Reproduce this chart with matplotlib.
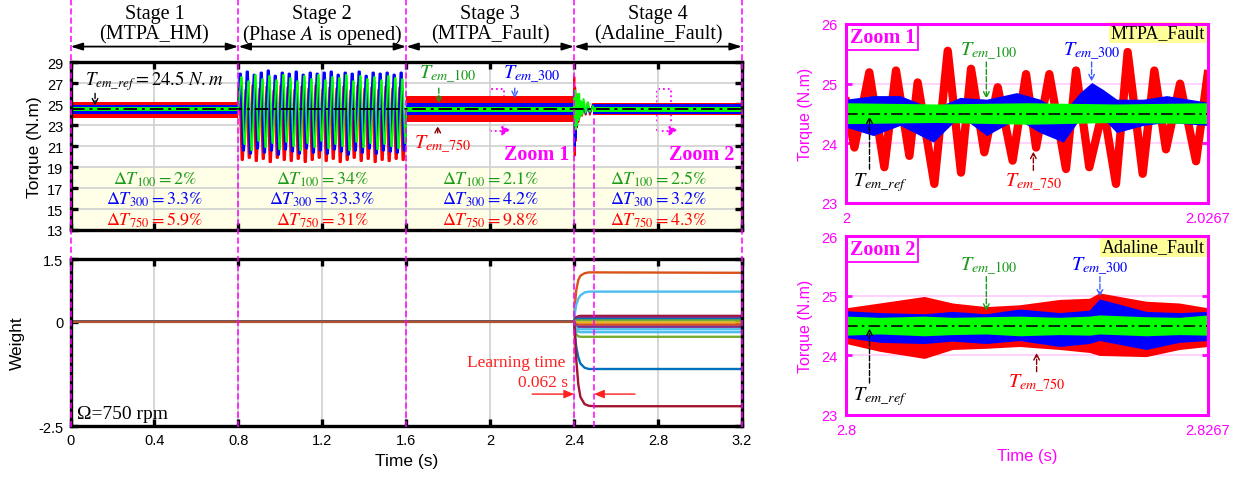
import numpy as np
import matplotlib.pyplot as plt
from matplotlib.lines import Line2D
from matplotlib.patches import Rectangle

plt.rcParams['font.family'] = ['Liberation Sans', 'DejaVu Sans']
plt.rcParams['mathtext.fontset'] = 'stix'
SERIF = ['Liberation Serif', 'DejaVu Serif']

RED, BLUE, GREEN = '#FF0000', '#0000FF', '#00FF00'
MAG = '#FF00FF'

# ---------------- main torque panel -----------------
stage_bounds = [0.0, 0.8, 1.6, 2.4, 3.2]
stage_names = ['Stage 1', 'Stage 2', 'Stage 3', 'Stage 4']
stage_modes = ['(MTPA_HM)', '(Phase $A$ is opened)', '(MTPA_Fault)', '(Adaline_Fault)']
dT100 = ['2%', '34%', '2.1%', '2.5%']
dT300 = ['3.3%', '33.3%', '4.2%', '3.2%']
dT750 = ['5.9%', '31%', '9.8%', '4.3%']
T_ref = 24.5

# noise bands (low, high) for stage 1, 3, 4
band1_t = [0.0, 0.8]
band1_red = ([23.65, 23.65], [25.25, 25.25])
band1_blue = ([24.1, 24.1], [24.9, 24.9])
band1_green = ([24.32, 24.32], [24.72, 24.72])
band3_t = [1.6, 2.4]
band3_red = ([23.35, 23.35], [25.8, 25.8])
band3_blue = ([24.0, 24.0], [25.1, 25.1])
band3_green = ([24.22, 24.22], [24.78, 24.78])
band4_t = [2.49, 3.2]
band4_red = ([24.0, 24.0], [25.1, 25.1])
band4_blue = ([24.1, 24.1], [25.0, 25.0])
band4_green = ([24.3, 24.3], [24.78, 24.78])

# stage 2 oscillation: per-cycle peaks and troughs (24 cycles)
s2_blue_hi = [27.9, 28.1, 27.8, 28.0, 28.2, 27.7, 28.0, 27.9, 28.1, 27.8, 28.0, 27.9,
              28.0, 28.1, 27.8, 28.0, 27.9, 28.1, 27.7, 28.0, 27.9, 28.0, 27.8, 28.0]
s2_blue_lo = [20.6, 20.3, 20.8, 20.4, 20.6, 20.2, 20.7, 20.5, 20.3, 20.8, 20.4, 20.6,
              20.3, 20.7, 20.5, 20.2, 20.6, 20.4, 20.8, 20.3, 20.6, 20.5, 20.4, 20.6]
s2_green_hi = [27.6, 27.2, 27.8, 27.4, 27.7, 27.3, 27.8, 27.5, 27.2, 27.7, 27.4, 27.8,
               27.3, 27.6, 27.5, 27.8, 27.2, 27.7, 27.4, 27.6, 27.3, 27.7, 27.5, 27.4]
s2_green_lo = [21.2, 20.6, 21.5, 20.9, 21.3, 20.7, 21.4, 21.0, 20.6, 21.3, 20.9, 21.5,
               20.8, 21.2, 21.0, 20.6, 21.4, 20.9, 21.3, 20.7, 21.2, 21.0, 20.8, 21.3]
s2_red_hi = [26.7, 26.4, 26.8, 26.5, 26.7, 26.3, 26.8, 26.6, 26.4, 26.7, 26.5, 26.8,
             26.4, 26.6, 26.5, 26.7, 26.3, 26.8, 26.5, 26.6, 26.4, 26.7, 26.5, 26.6]
s2_red_lo = [19.7, 19.9, 19.6, 19.8, 19.5, 19.9, 19.7, 19.6, 19.8, 19.5, 19.7, 19.9,
             19.6, 19.8, 19.5, 19.7, 19.9, 19.6, 19.8, 19.5, 19.7, 19.6, 19.8, 19.7]

# transient when Adaline starts (t = 2.4)
tr_t = [2.398, 2.401, 2.403, 2.405, 2.408, 2.411, 2.414, 2.417, 2.420, 2.424,
        2.428, 2.433, 2.438, 2.445, 2.455, 2.465, 2.475, 2.49]
tr_red = [25.6, 27.6, 20.1, 26.6, 21.5, 26.0, 22.8, 25.6, 23.3, 25.3,
          23.8, 25.2, 23.9, 25.1, 24.0, 25.1, 24.0, 25.0]
tr_blue = [24.6, 26.2, 21.0, 25.9, 21.8, 25.6, 22.9, 25.3, 23.5, 25.1,
           23.9, 25.0, 24.1, 24.9, 24.1, 24.9, 24.2, 24.9]
tr_green = [24.5, 25.6, 23.0, 26.3, 22.6, 26.0, 23.0, 25.5, 23.5, 26.0,
            23.8, 25.3, 24.0, 25.5, 24.2, 25.2, 24.3, 24.8]

# ---------------- weights -----------------
w_t = [0.0, 2.40, 2.405, 2.41, 2.42, 2.43, 2.45, 2.47, 2.50, 3.2]
weights = [
    ('#D95319', [0, 0, 0.45, 0.75, 1.00, 1.10, 1.16, 1.18, 1.18, 1.17]),
    ('#4DBEEE', [0, 0, 0.25, 0.40, 0.55, 0.63, 0.70, 0.72, 0.72, 0.72]),
    ('#A2142F', [0, 0, 0.08, 0.11, 0.13, 0.14, 0.14, 0.14, 0.14, 0.14]),
    ('#7E2F8E', [0, 0, 0.05, 0.08, 0.10, 0.10, 0.10, 0.10, 0.10, 0.10]),
    ('#0072BD', [0, 0, 0.03, 0.05, 0.06, 0.06, 0.06, 0.06, 0.06, 0.06]),
    ('#77AC30', [0, 0, 0.02, 0.03, 0.03, 0.03, 0.03, 0.03, 0.03, 0.03]),
    ('#EDB120', [0, 0, -0.01, -0.02, -0.02, -0.02, -0.02, -0.02, -0.02, -0.02]),
    ('#D95319', [0, 0, -0.04, -0.06, -0.07, -0.07, -0.07, -0.07, -0.07, -0.07]),
    ('#7E2F8E', [0, 0, -0.07, -0.10, -0.12, -0.12, -0.12, -0.12, -0.12, -0.12]),
    ('#4DBEEE', [0, 0, -0.10, -0.15, -0.18, -0.18, -0.18, -0.18, -0.18, -0.18]),
    ('#4DBEEE', [0, 0, -0.14, -0.20, -0.24, -0.25, -0.25, -0.25, -0.25, -0.25]),
    ('#77AC30', [0, 0, -0.20, -0.30, -0.35, -0.36, -0.36, -0.36, -0.36, -0.36]),
    ('#0072BD', [0, 0, -0.35, -0.60, -0.85, -1.00, -1.10, -1.13, -1.13, -1.13]),
    ('#A2142F', [0, 0, -0.40, -0.90, -1.50, -1.80, -1.97, -2.01, -2.02, -2.02]),
]
learn_end = 2.495

# ---------------- zoom 1 (MTPA_Fault) -----------------
z1_red_t = [2.0, 2.00062, 2.00172, 2.00283, 2.00369, 2.00468, 2.00529, 2.00652, 2.00751,
            2.00849, 2.00923, 2.01021, 2.0112, 2.0123, 2.01329, 2.01403, 2.01501, 2.01624,
            2.01698, 2.01796, 2.019, 2.01993, 2.02079, 2.0219, 2.02276, 2.02362, 2.02466,
            2.02584, 2.0267]
z1_red = [24.7, 23.93, 25.19, 23.6, 25.22, 23.79, 25.02, 23.32, 25.55,
          23.51, 25.25, 23.85, 24.94, 23.71, 25.16, 23.93, 25.16, 23.57,
          25.22, 23.6, 24.6, 23.32, 25.53, 23.49, 25.22, 23.9, 25.0,
          23.7, 25.16]
z1_blue_t = [2.0, 2.00202, 2.00399, 2.00645, 2.00842, 2.01038, 2.0126, 2.01432, 2.01604,
             2.01727, 2.01814, 2.019, 2.01998, 2.02195, 2.02367, 2.0267]
z1_blue_hi = [24.74, 24.80, 24.80, 24.58, 24.77, 24.74, 24.85, 24.74, 24.52,
              24.85, 25.02, 24.90, 24.74, 24.74, 24.80, 24.69]
z1_blue_lo = [24.27, 24.13, 24.30, 24.02, 24.46, 24.13, 24.41, 24.18, 24.02,
              24.41, 24.58, 24.41, 24.18, 24.30, 24.35, 24.30]
z1_green_t = [2.0, 2.0067, 2.0134, 2.02, 2.0267]
z1_green_hi = [24.68, 24.66, 24.68, 24.66, 24.68]
z1_green_lo = [24.33, 24.35, 24.32, 24.35, 24.33]

# ---------------- zoom 2 (Adaline_Fault) -----------------
z2_t = [2.8, 2.80246, 2.80578, 2.80787, 2.81034, 2.8128, 2.81575, 2.81796, 2.8187,
        2.82215, 2.82461, 2.8267]
z2_red_hi = [24.80, 24.88, 24.99, 24.88, 24.82, 24.85, 24.94, 24.96, 25.05, 24.91, 24.88, 24.80]
z2_red_lo = [24.20, 24.07, 23.95, 24.10, 24.12, 24.15, 24.10, 24.05, 24.00, 23.98, 24.10, 24.15]
z2_blue_hi = [24.75, 24.72, 24.70, 24.74, 24.70, 24.78, 24.72, 24.76, 24.95, 24.74, 24.72, 24.74]
z2_blue_lo = [24.30, 24.22, 24.20, 24.24, 24.20, 24.25, 24.15, 24.20, 24.25, 24.10, 24.22, 24.25]
z2_green_hi = [24.66, 24.64, 24.66, 24.64, 24.65, 24.66, 24.64, 24.66, 24.68, 24.65, 24.64, 24.68]
z2_green_lo = [24.34, 24.36, 24.33, 24.35, 24.36, 24.33, 24.35, 24.34, 24.36, 24.33, 24.35, 24.34]

# ======================================================
W, H = 1245, 489
fig = plt.figure(figsize=(W / 100, H / 100), dpi=100)

L, Wd = 70.5 / W, 671.5 / W
ax_t = fig.add_axes([L, 1 - 231 / H, Wd, 167.7 / H])
ax_w = fig.add_axes([L, 1 - 427.3 / H, Wd, 167.3 / H])
ax_z1 = fig.add_axes([846 / W, 1 - 204 / H, 361.7 / W, 179 / H])
ax_z2 = fig.add_axes([846 / W, 1 - 416 / H, 361.7 / W, 178.7 / H])


def style_main(ax):
    for s in ax.spines.values():
        s.set_linewidth(2.4)
        s.set_zorder(10)
    ax.tick_params(direction='in', length=5, width=2.4, top=True, right=True,
                   labelsize=10.5, pad=5)
    ax.set_xlim(0, 3.2)
    ax.set_xticks([0, 0.4, 0.8, 1.2, 1.6, 2, 2.4, 2.8, 3.2])
    ax.grid(True, axis='x', color='#D0D0D0', lw=1.2, zorder=0)


# ---- torque
ax = ax_t
style_main(ax)
ax.set_ylim(13, 29)
ax.set_yticks(range(13, 30, 2))
ax.grid(True, axis='y', color='#D0D0D0', lw=1.2, zorder=0)
ax.tick_params(labelbottom=False)
ax.set_ylabel('Torque (N.m)', fontsize=12.5, labelpad=4)
ax.add_patch(Rectangle((0, 13), 3.2, 6, facecolor='#FFFEE6', edgecolor='none', zorder=0.5))

for bt, br, bb, bg in [(band1_t, band1_red, band1_blue, band1_green),
                       (band3_t, band3_red, band3_blue, band3_green),
                       (band4_t, band4_red, band4_blue, band4_green)]:
    ax.fill_between(bt, br[0], br[1], color=RED, lw=0, zorder=2)
    ax.fill_between(bt, bb[0], bb[1], color=BLUE, lw=0, zorder=3)
    ax.fill_between(bt, bg[0], bg[1], color=GREEN, lw=0, zorder=4)

period = 0.8 / len(s2_blue_hi)
for hi, lo, col, ph, z, lw in [(s2_red_hi, s2_red_lo, RED, 0.0, 2, 1.8),
                               (s2_blue_hi, s2_blue_lo, BLUE, 0.33, 3, 1.8),
                               (s2_green_hi, s2_green_lo, GREEN, 0.66, 4, 1.2)]:
    tt, yy = [0.8], [24.5]
    for k in range(len(hi)):
        t0 = 0.8 + (k + ph * 0.5 + 0.05) * period
        tt += [t0, t0 + 0.12 * period, t0 + 0.45 * period, t0 + 0.57 * period]
        yy += [hi[k], hi[k], lo[k], lo[k]]
    tt.append(1.6)
    yy.append(24.5)
    ax.plot(tt, yy, color=col, lw=lw, zorder=z)

ax.plot(tr_t, tr_red, color=RED, lw=1.4, zorder=2)
ax.plot(tr_t, tr_blue, color=BLUE, lw=1.4, zorder=3)
ax.plot(tr_t, tr_green, color=GREEN, lw=1.4, zorder=4)
ax.axhline(T_ref, color='black', lw=1.4, ls=(0, (7, 2.5, 1.5, 2.5)), zorder=5)

for i in range(4):
    c = 0.5 * (stage_bounds[i] + stage_bounds[i + 1])
    ax.text(c, 33.7, stage_names[i], ha='center', va='center', fontsize=14.5,
            family=SERIF, clip_on=False)
    ax.text(c, 31.7, stage_modes[i], ha='center', va='center', fontsize=14.5,
            family=SERIF, clip_on=False)
    ax.annotate('', xy=(stage_bounds[i], 30.5), xytext=(stage_bounds[i + 1], 30.5),
                arrowprops=dict(arrowstyle='<|-|>,head_length=0.7,head_width=0.22',
                                color='black', lw=1.3, shrinkA=0, shrinkB=0),
                annotation_clip=False)
    ax.text(c, 17.9, r'$\Delta T_{100} = ' + dT100[i].replace('%', r'\%') + '$',
            ha='center', va='center', fontsize=13, color='#1A9A1A', zorder=6)
    ax.text(c, 15.95, r'$\Delta T_{300} = ' + dT300[i].replace('%', r'\%') + '$',
            ha='center', va='center', fontsize=13, color=BLUE, zorder=6)
    ax.text(c, 14.0, r'$\Delta T_{750} = ' + dT750[i].replace('%', r'\%') + '$',
            ha='center', va='center', fontsize=13, color=RED, zorder=6)

ax.text(0.07, 27.3, r'$T_{em\_ref} = 24.5\ N.m$', fontsize=13.5, va='center', zorder=6)
ax.annotate('', xy=(0.117, 24.6), xytext=(0.117, 26.3),
            arrowprops=dict(arrowstyle='->', ls='--', color='black', lw=1), zorder=6)
ax.text(1.80, 27.9, r'$T_{em\_100}$', fontsize=14.5, color='#1A9A1A', ha='center', va='center', zorder=6)
ax.annotate('', xy=(1.755, 24.8), xytext=(1.755, 26.8),
            arrowprops=dict(arrowstyle='->', ls='--', color='#1A9A1A', lw=1), zorder=6)
ax.text(2.20, 27.9, r'$T_{em\_300}$', fontsize=14.5, color=BLUE, ha='center', va='center', zorder=6)
ax.annotate('', xy=(2.117, 25.3), xytext=(2.117, 26.8),
            arrowprops=dict(arrowstyle='->', ls='--', color='#4060FF', lw=1), zorder=6)
ax.text(1.775, 21.2, r'$T_{em\_750}$', fontsize=14.5, color=RED, ha='center', va='center', zorder=6)
ax.annotate('', xy=(1.75, 23.2), xytext=(1.75, 22.0),
            arrowprops=dict(arrowstyle='->', ls='--', color='#8B0000', lw=1), zorder=6)

for (x0, x1), lbl, lx in [((1.998, 2.066), 'Zoom 1', 2.22), ((2.796, 2.863), 'Zoom 2', 3.01)]:
    ax.add_patch(Rectangle((x0, 22.47), x1 - x0, 26.45 - 22.47, fill=False,
                           edgecolor=MAG, lw=1.3, ls=':', zorder=1.5))
    ax.annotate('', xy=(x1 - 0.02, 21.7), xytext=(x1, 22.47),
                arrowprops=dict(arrowstyle='-|>,head_length=0.5,head_width=0.25',
                                ls=':', color=MAG, lw=1.3), zorder=6)
    ax.text(lx, 20.25, lbl, fontsize=14.5, fontweight='bold', color=MAG, family=SERIF,
            ha='center', va='center', zorder=6)

# ---- weights
ax = ax_w
style_main(ax)
ax.set_ylim(-2.5, 1.5)
ax.set_yticks([-2.5, 0, 1.5])
ax.set_yticklabels(['-2.5', '0', '1.5'])
ax.set_ylabel('Weight', fontsize=12.5, labelpad=10)
ax.set_xticklabels(['0', '0.4', '0.8', '1.2', '1.6', '2', '2.4', '2.8', '3.2'])
ax.set_xlabel('Time (s)', fontsize=12.5, labelpad=4)
for col, vals in weights:
    ax.plot(w_t, vals, color=col, lw=1.7, zorder=3)
ax.plot([0, 2.4], [0, 0], color='#B0522E', lw=1.6, zorder=4)
ax.text(0.03, -2.2, '\u03a9=750 rpm', fontsize=14, family=SERIF, va='center', zorder=6)
ax.text(2.125, -0.96, 'Learning time', fontsize=12.5, family=SERIF, color='#FF2020',
        ha='center', va='center')
ax.text(2.37, -1.43, '0.062 s', fontsize=12.5, family=SERIF, color='#FF2020',
        ha='right', va='center')
ax.annotate('', xy=(2.4, -1.73), xytext=(2.2, -1.73),
            arrowprops=dict(arrowstyle='-|>,head_length=0.6,head_width=0.25',
                            color='#FF2020', lw=1, shrinkA=0, shrinkB=0))
ax.annotate('', xy=(learn_end, -1.73), xytext=(2.69, -1.73),
            arrowprops=dict(arrowstyle='-|>,head_length=0.6,head_width=0.25',
                            color='#FF2020', lw=1, shrinkA=0, shrinkB=0))

# ---- magenta stage separators
ybot = 1 - 428 / H
for t in stage_bounds:
    x = L + Wd * t / 3.2
    fig.add_artist(Line2D([x, x], [ybot, 1.0], color=MAG, lw=1.1, ls=(0, (4, 2)), zorder=20))
x = L + Wd * learn_end / 3.2
fig.add_artist(Line2D([x, x], [ybot, 1 - 115 / H], color=MAG, lw=1.1, ls=(0, (4, 2)), zorder=20))


# ---- zoom panels
def style_zoom(ax, t0, t1, lbl):
    for s in ax.spines.values():
        s.set_color(MAG)
        s.set_linewidth(2.2)
        s.set_zorder(10)
    ax.set_xlim(t0, t1)
    ax.set_ylim(23, 26)
    ax.set_yticks([23, 24, 25, 26])
    ax.set_xticks([t0, t1])
    ax.set_xticklabels([f'{t0:g}', f'{t1:g}'])
    ax.tick_params(direction='in', length=4, width=2, colors=MAG, right=True,
                   labelsize=10.5, labelcolor=MAG, pad=6)
    ax.tick_params(axis='x', length=0)
    for yv in (24, 25):
        ax.axhline(yv, color='#FFCCFF', lw=1.2, zorder=0)
    ax.set_ylabel('Torque (N.m)', fontsize=11.5, color=MAG, labelpad=6)
    ax.axhline(T_ref, color='black', lw=1.2, ls=(0, (7, 2.5, 1.5, 2.5)), zorder=5)
    ax.text(t0 + (t1 - t0) * 0.0103, 25.79, lbl, fontsize=14.5, fontweight='bold', color=MAG,
            family=SERIF, va='center', zorder=7,
            bbox=dict(boxstyle='square,pad=0.15', facecolor='white', edgecolor=MAG, lw=1.3))


def tlabels(ax, t0, ytxt, yref, y750, pos):
    # pos: fractions of the span for T100, T300, arrow tip of T300, T750, Tref
    sp = 0.0267
    x100, x300, y300tip, x750, xref = pos
    ax.text(t0 + sp * x100, ytxt, r'$T_{em\_100}$', fontsize=14.5, color='#1A9A1A',
            ha='center', va='center', zorder=7)
    ax.annotate('', xy=(t0 + sp * (x100 - 0.006), 24.7),
                xytext=(t0 + sp * (x100 - 0.006), ytxt - 0.13),
                arrowprops=dict(arrowstyle='->', ls='--', color='#1A9A1A', lw=1), zorder=7)
    ax.text(t0 + sp * x300, ytxt, r'$T_{em\_300}$', fontsize=14.5, color=BLUE,
            ha='center', va='center', zorder=7)
    ax.annotate('', xy=(t0 + sp * x300, y300tip), xytext=(t0 + sp * x300, ytxt - 0.13),
                arrowprops=dict(arrowstyle='->', ls='--', color='#4060FF', lw=1), zorder=7)
    ax.text(t0 + sp * xref, yref, r'$T_{em\_ref}$', fontsize=14.5, color='black',
            ha='center', va='center', zorder=7)
    ax.annotate('', xy=(t0 + sp * 0.065, 24.5), xytext=(t0 + sp * 0.065, yref + 0.16),
                arrowprops=dict(arrowstyle='->', ls='--', color='black', lw=1), zorder=7)
    ax.text(t0 + sp * x750, y750, r'$T_{em\_750}$', fontsize=14.5, color=RED,
            ha='center', va='center', zorder=7)
    ax.annotate('', xy=(t0 + sp * x750, y750 + 0.55), xytext=(t0 + sp * x750, y750 + 0.14),
                arrowprops=dict(arrowstyle='->', ls='--', color='#8B0000', lw=1), zorder=7)


ax = ax_z1
style_zoom(ax, 2.0, 2.0267, 'Zoom 1')
ax.plot(z1_red_t, z1_red, color=RED, lw=6, zorder=2, solid_joinstyle='round')
ax.fill_between(z1_blue_t, z1_blue_lo, z1_blue_hi, color=BLUE, lw=0, zorder=3)
ax.fill_between(z1_green_t, z1_green_lo, z1_green_hi, color=GREEN, lw=0, zorder=4)
ax.text(2.0265, 25.86, 'MTPA_Fault', fontsize=13, family=SERIF, ha='right', va='center',
        zorder=7, bbox=dict(boxstyle='square,pad=0.1', facecolor='#FFFF99', edgecolor='none'))
tlabels(ax, 2.0, 25.54, 23.36, 23.36, (0.394, 0.679, 24.99, 0.518, 0.094))

ax = ax_z2
style_zoom(ax, 2.8, 2.8267, 'Zoom 2')
ax.fill_between(z2_t, z2_red_lo, z2_red_hi, color=RED, lw=0, zorder=2)
ax.fill_between(z2_t, z2_blue_lo, z2_blue_hi, color=BLUE, lw=0, zorder=3)
ax.fill_between(z2_t, z2_green_lo, z2_green_hi, color=GREEN, lw=0, zorder=4)
ax.text(2.8265, 25.83, 'Adaline_Fault', fontsize=13, family=SERIF, ha='right', va='center',
        zorder=7, bbox=dict(boxstyle='square,pad=0.1', facecolor='#FFFF99', edgecolor='none'))
tlabels(ax, 2.8, 25.5, 23.33, 23.54, (0.394, 0.702, 24.94, 0.527, 0.094))
ax.set_xlabel('Time (s)', fontsize=12, color=MAG, labelpad=8)

fig.savefig('out.png', dpi=100)
